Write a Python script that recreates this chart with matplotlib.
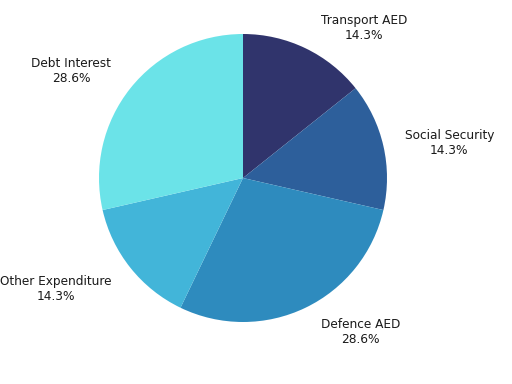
import matplotlib
matplotlib.use("Agg")
import matplotlib.pyplot as plt
import numpy as np

# Данные
categories = ["Transport AED", "Social Security", "Defence AED", "Other Expenditure", "Debt Interest"]
values = [1, 1, 2, 1, 2]
colors = ["#30346c", "#2d5f9b", "#2e8bbe", "#42b5d9", "#6be3e8"]

total = sum(values)
labels = [f"{c}\n{v / total * 100:.1f}%" for c, v in zip(categories, values)]

fig = plt.figure(figsize=(5.12, 3.84), dpi=100)
# ось подобрана так, чтобы центр круга был в (243, 178) px, радиус ~144 px
ax = fig.add_axes([(243 - 144) / 512, (384 - 178 - 144) / 384, 288 / 512, 288 / 384])

wedges, texts = ax.pie(values, labels=labels, colors=colors, startangle=90,
                       counterclock=False, labeldistance=1.08,
                       wedgeprops=dict(linewidth=0),
                       textprops=dict(fontsize=8.7, color="#1a1a1a"))

# выравнивание подписей как в оригинале
for w, t in zip(wedges, texts):
    ang = np.deg2rad((w.theta1 + w.theta2) / 2)
    s, c = np.sin(ang), np.cos(ang)
    x, y = t.get_position()
    t.set_multialignment("center")
    t.set_horizontalalignment("left" if c > 0 else "right")
    x += 0.07 if c > 0 else -0.07
    if s > 0.4:
        t.set_verticalalignment("bottom")
        y -= 0.03
    elif s < -0.4:
        t.set_verticalalignment("top")
    else:
        t.set_verticalalignment("center")
    t.set_position((x, y))

ax.set_xlim(-1, 1)
ax.set_ylim(-1, 1)
ax.set_aspect("equal")

fig.savefig("out.png", dpi=100)
